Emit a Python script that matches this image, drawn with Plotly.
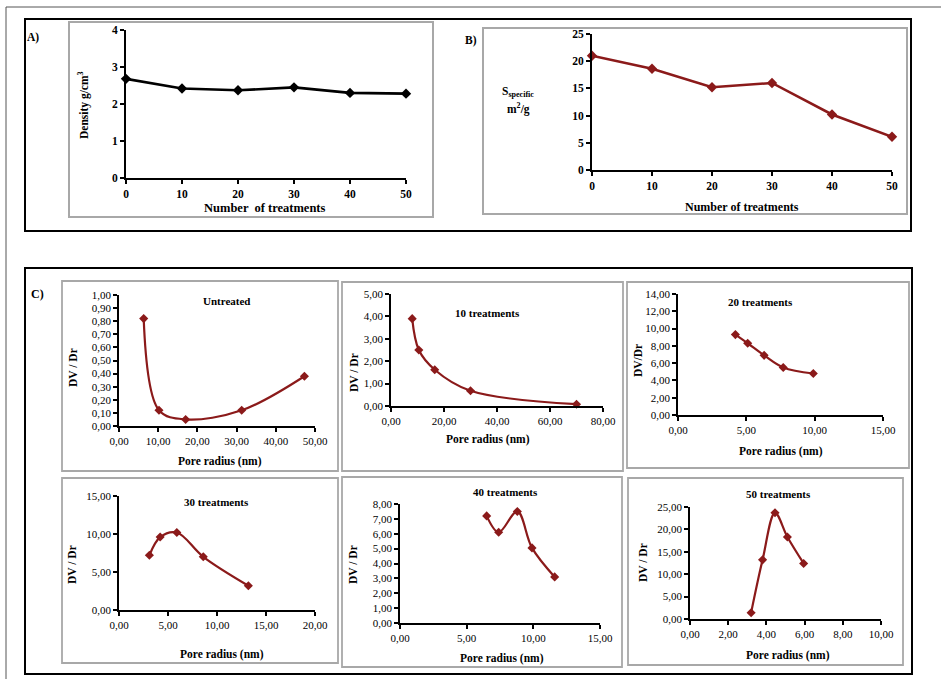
import plotly.graph_objects as go

W, H = 941, 679

# ---------------- data ----------------
treat_x = [0, 10, 20, 30, 40, 50]
density = [2.68, 2.42, 2.37, 2.45, 2.30, 2.28]
s_specific = [21.0, 18.6, 15.2, 16.0, 10.2, 6.1]

untreated_r = [6.3, 10.2, 17.0, 31.3, 47.3]
untreated_dv = [0.82, 0.12, 0.05, 0.12, 0.38]

t10_r = [8.0, 10.5, 16.5, 30.0, 70.0]
t10_dv = [3.90, 2.50, 1.62, 0.68, 0.08]

t20_r = [4.2, 5.1, 6.3, 7.7, 9.9]
t20_dv = [9.3, 8.3, 6.9, 5.5, 4.8]

t30_r = [3.1, 4.2, 5.9, 8.6, 13.2]
t30_dv = [7.2, 9.6, 10.2, 7.0, 3.2]

t40_r = [6.5, 7.4, 8.8, 9.9, 11.6]
t40_dv = [7.2, 6.1, 7.5, 5.05, 3.1]

t50_r = [3.2, 3.8, 4.45, 5.1, 5.95]
t50_dv = [1.4, 13.2, 23.7, 18.3, 12.4]

DARK_RED = "#8b1a1a"
FONT = "Liberation Serif"


def px(x):
    return x / W


def py(y):
    return 1 - y / H


fig = go.Figure()

# panels: (name, x, y, color, shape, xdomain px, ydomain px(bottom, top), xrange, xdtick, yrange, ydtick, fmt)
panels = [
    ("A", treat_x, density, "black", "linear", (126, 406), (178, 30), [0, 50], 10, [0, 4], 1, "d"),
    ("B", treat_x, s_specific, DARK_RED, "linear", (592, 892), (170, 34), [0, 50], 10, [0, 25], 5, "d"),
    ("U", untreated_r, untreated_dv, DARK_RED, "spline", (119, 315), (426, 295), [0, 50], 10, [0, 1.0], 0.1, ".2f"),
    ("T10", t10_r, t10_dv, DARK_RED, "spline", (391, 603), (406, 294), [0, 80], 20, [0, 5], 1, ".2f"),
    ("T20", t20_r, t20_dv, DARK_RED, "spline", (678, 883), (415, 294), [0, 15], 5, [0, 14], 2, ".2f"),
    ("T30", t30_r, t30_dv, DARK_RED, "spline", (119, 315), (610, 496), [0, 20], 5, [0, 15], 5, ".2f"),
    ("T40", t40_r, t40_dv, DARK_RED, "spline", (400, 600), (623, 504), [0, 15], 5, [0, 8], 1, ".2f"),
    ("T50", t50_r, t50_dv, DARK_RED, "spline", (690, 881), (619, 507), [0, 10], 2, [0, 25], 5, ".2f"),
]

layout_axes = {}
for i, (name, xs, ys, col, shape, xd, yd, xr, xdt, yr, ydt, fmt) in enumerate(panels):
    n = i + 1
    xa = "x" if n == 1 else f"x{n}"
    ya = "y" if n == 1 else f"y{n}"
    big = name in ("A", "B")
    fig.add_trace(go.Scatter(
        x=xs, y=ys, mode="lines+markers",
        line=dict(color=col, width=2.6 if big else 2.2, shape=shape, smoothing=1.0),
        marker=dict(symbol="diamond", size=8 if big else 7, color=col),
        xaxis=xa, yaxis=ya, showlegend=False, cliponaxis=False,
    ))
    tickfont = dict(family=FONT, size=11.5 if big else 11, color="black",
                    weight="bold" if big else "normal")
    common = dict(showgrid=False, zeroline=False, showline=True, linecolor="black",
                  linewidth=2 if big else 1.6, ticks="outside", ticklen=4,
                  tickcolor="black", tickwidth=1.5, tickfont=tickfont, tickformat=fmt,
                  automargin=False)
    layout_axes["xaxis" if n == 1 else f"xaxis{n}"] = dict(
        domain=[px(xd[0]), px(xd[1])], range=xr, dtick=xdt, tick0=0,
        anchor=ya, **common)
    layout_axes["yaxis" if n == 1 else f"yaxis{n}"] = dict(
        domain=[py(yd[0]), py(yd[1])], range=yr, dtick=ydt, tick0=0,
        anchor=xa, **common)

fig.update_layout(template="none")
fig.update_layout(**layout_axes)

shapes = []


def rect(x0, y0, x1, y1, color, width):
    shapes.append(dict(type="rect", xref="paper", yref="paper",
                       x0=px(x0), x1=px(x1), y0=py(y1), y1=py(y0),
                       line=dict(color=color, width=width), fillcolor="rgba(0,0,0,0)",
                       layer="below"))


# outer thin frame (top & left lines)
shapes.append(dict(type="line", xref="paper", yref="paper", x0=px(6), x1=1.0, y0=py(7), y1=py(7),
                   line=dict(color="#555555", width=1)))
shapes.append(dict(type="line", xref="paper", yref="paper", x0=px(6), x1=px(6), y0=py(7), y1=0.0,
                   line=dict(color="#555555", width=1)))
# black boxes
rect(25, 19, 911, 231, "black", 2)
rect(25, 268, 912, 674, "black", 2)
# grey sub-panel boxes
GREY = "#a8a8a8"
rect(69, 22, 433, 217, GREY, 2)
rect(483, 28, 907, 214, GREY, 2)
rect(62, 281, 338, 471, GREY, 1.8)
rect(342, 282, 623, 471, GREY, 1.8)
rect(627, 282, 909, 468, GREY, 1.8)
rect(62, 478, 338, 663, GREY, 1.8)
rect(342, 477, 622, 667, GREY, 1.8)
rect(628, 478, 903, 665, GREY, 1.8)

ann = []


def text(x, y, t, size=11, angle=0, xanchor="center"):
    ann.append(dict(text=t, x=px(x), y=py(y), xref="paper", yref="paper",
                    showarrow=False, textangle=angle, xanchor=xanchor, yanchor="middle",
                    font=dict(family=FONT, size=size, color="black", weight="bold")))


# panel letters
text(25, 37, "A)", 11.5, xanchor="left")
text(463, 40, "B)", 11.5, xanchor="left")
text(29, 294, "C)", 12, xanchor="left")

# A
text(83, 105, "Density g/cm<sup>3</sup>", 11.5, -90)
text(265, 208, "Number  of treatments", 12.5)
# B
text(518, 92, "S<sub>specific</sub>", 11.5)
text(518, 109, "m<sup>2</sup>/g", 11.5)
text(742, 207, "Number of treatments", 12)

# C panels: titles
text(226, 301, "Untreated", 11)
text(487, 313, "10 treatments", 11)
text(760, 302, "20 treatments", 11)
text(216, 502, "30 treatments", 11)
text(505, 492, "40 treatments", 11)
text(778, 494, "50 treatments", 11)

# y titles
text(73, 368, "DV / Dr", 11.5, -90)
text(354, 373, "DV / Dr", 11.5, -90)
text(638, 361, "DV/Dr", 11.5, -90)
text(72, 565, "DV / Dr", 11.5, -90)
text(353, 565, "DV / Dr", 11.5, -90)
text(643, 563, "DV / Dr", 11.5, -90)

# x titles
text(220, 461, "Pore radius (nm)", 11.5)
text(488, 439, "Pore radius (nm)", 11.5)
text(781, 451, "Pore radius (nm)", 11.5)
text(222, 654, "Pore radius (nm)", 11.5)
text(502, 658, "Pore radius (nm)", 11.5)
text(788, 655, "Pore radius (nm)", 11.5)

fig.update_layout(
    width=W, height=H, margin=dict(l=0, r=0, t=0, b=0, pad=0),
    paper_bgcolor="white", plot_bgcolor="white",
    separators=",.",
    shapes=shapes, annotations=ann,
    font=dict(family=FONT, color="black"),
)

fig.write_html(
    "out.html",
    config={"displayModeBar": False},
    post_script="document.body.style.margin='0';document.body.style.padding='0';"
                "document.body.style.overflow='hidden';",
)
